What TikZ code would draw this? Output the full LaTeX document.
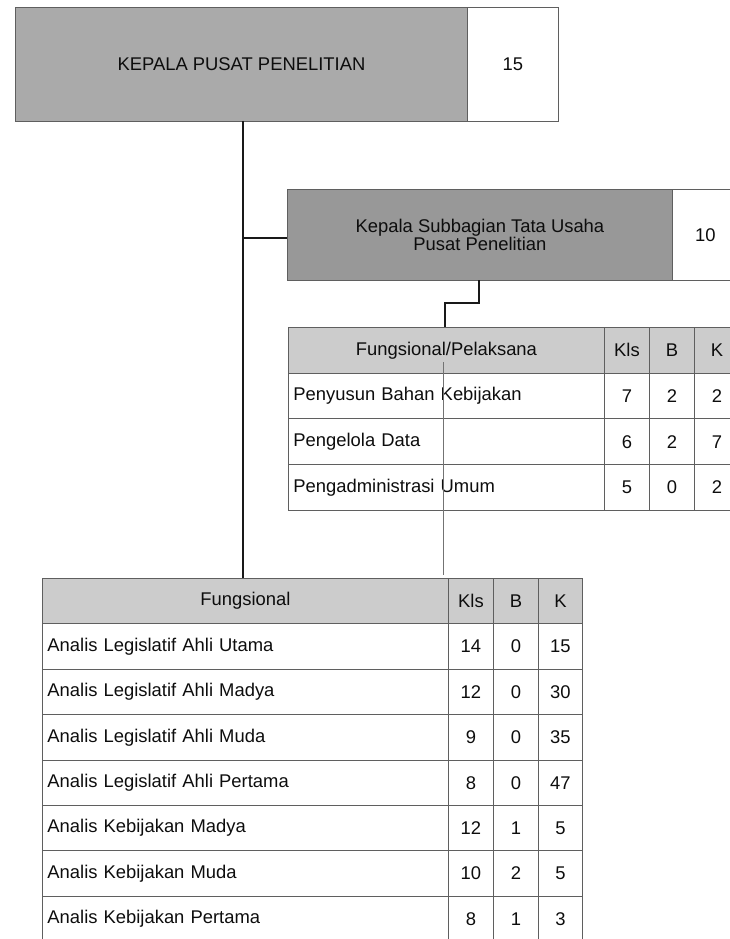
\documentclass[tikz,border=0pt]{standalone}
\usepackage{fontspec}
\setmainfont{Liberation Sans}
\definecolor{topgray}{RGB}{170,170,170}
\definecolor{subgray}{RGB}{152,152,152}
\definecolor{hdrgray}{RGB}{204,204,204}
\definecolor{rulegray}{RGB}{95,95,95}
\begin{document}
\begin{tikzpicture}[x=1pt,y=-1pt,
  every node/.style={font=\fontsize{18.4}{18}\selectfont, text=black!95},
  box/.style={draw=rulegray, line width=0.9pt, inner sep=0pt, anchor=north west},
  cell/.style={draw=rulegray, line width=0.9pt, inner sep=0pt, anchor=north west},
  txtcell/.style={cell, inner xsep=5pt, align=left},
  conn/.style={line width=1.7pt, black!90},
  thinline/.style={line width=0.9pt, black!55}]
\useasboundingbox (0,0) rectangle (730,939);

% top box
\node[box, fill=topgray, minimum width=452pt, minimum height=114pt] (top) at (15,7) {KEPALA PUSAT PENELITIAN};
\node[box, fill=white, minimum width=91pt, minimum height=114pt] (topn) at (467,7) {15};

% sub box
\node[box, fill=subgray, minimum width=385pt, minimum height=91pt, align=center] (sub) at (287,189) {Kepala Subbagian Tata Usaha\\Pusat Penelitian};
\node[box, fill=white, minimum width=66pt, minimum height=91pt] (subn) at (672,189) {10};

% upper table header
\node[cell, fill=hdrgray, minimum width=316pt, minimum height=45.7pt] (uh1) at (288,327) {Fungsional/Pelaksana};
\node[cell, fill=hdrgray, minimum width=45pt, minimum height=45.7pt] (uh2) at (604,327) {Kls};
\node[cell, fill=hdrgray, minimum width=45pt, minimum height=45.7pt] (uh3) at (649,327) {B};
\node[cell, fill=hdrgray, minimum width=45pt, minimum height=45.7pt] (uh4) at (694,327) {K};
\foreach \r/\t/\a/\b/\c in {1/Penyusun Bahan Kebijakan/7/2/2, 2/Pengelola Data/6/2/7, 3/Pengadministrasi Umum/5/0/2}{
  \pgfmathsetmacro\yy{327+45.7*\r}
  \node[txtcell, minimum height=45.7pt, text width=306pt] (u\r-t) at (288,\yy) {\t};
  \node[cell, minimum width=45pt, minimum height=45.7pt] (u\r-a) at (604,\yy) {\a};
  \node[cell, minimum width=45pt, minimum height=45.7pt] (u\r-b) at (649,\yy) {\b};
  \node[cell, minimum width=45pt, minimum height=45.7pt] (u\r-c) at (694,\yy) {\c};
}

% lower table header
\node[cell, fill=hdrgray, minimum width=406pt, minimum height=45.4pt] (lh1) at (42,578) {Fungsional};
\node[cell, fill=hdrgray, minimum width=45pt, minimum height=45.4pt] (lh2) at (448,578) {Kls};
\node[cell, fill=hdrgray, minimum width=45pt, minimum height=45.4pt] (lh3) at (493,578) {B};
\node[cell, fill=hdrgray, minimum width=44pt, minimum height=45.4pt] (lh4) at (538,578) {K};
\foreach \r/\t/\a/\b/\c in {1/Analis Legislatif Ahli Utama/14/0/15, 2/Analis Legislatif Ahli Madya/12/0/30, 3/Analis Legislatif Ahli Muda/9/0/35, 4/Analis Legislatif Ahli Pertama/8/0/47, 5/Analis Kebijakan Madya/12/1/5, 6/Analis Kebijakan Muda/10/2/5, 7/Analis Kebijakan Pertama/8/1/3}{
  \pgfmathsetmacro\yy{578+45.4*\r}
  \node[txtcell, minimum height=45.4pt, text width=396pt] (l\r-t) at (42,\yy) {\t};
  \node[cell, minimum width=45pt, minimum height=45.4pt] (l\r-a) at (448,\yy) {\a};
  \node[cell, minimum width=45pt, minimum height=45.4pt] (l\r-b) at (493,\yy) {\b};
  \node[cell, minimum width=44pt, minimum height=45.4pt] (l\r-c) at (538,\yy) {\c};
}

% connectors
\coordinate (trunkTop) at (243,121);
\coordinate (trunkBot) at (243,578);
\coordinate (branch) at (243,238);
\coordinate (subIn) at (287,238);
\draw[conn] (trunkTop) -- (trunkBot);
\draw[conn] (branch) -- (subIn);
\coordinate (subOut) at (479,280);
\coordinate (tabIn) at (445,327);
\draw[conn] (subOut) -- ++(0,23) -| (tabIn);
\coordinate (thinS) at (443,362);
\coordinate (thinE) at (443,575);
\draw[thinline] (thinS) -- (thinE);
\end{tikzpicture}
\end{document}
